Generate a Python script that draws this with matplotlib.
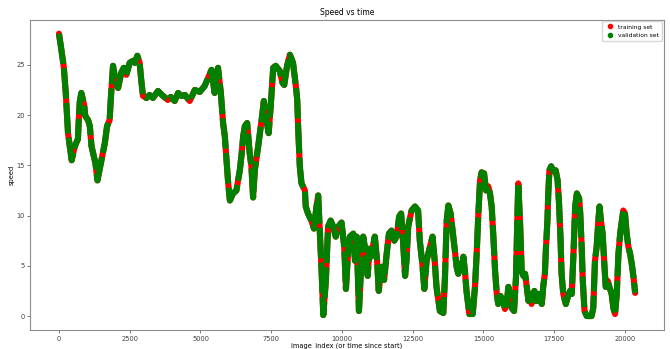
import matplotlib
matplotlib.use('Agg')
from matplotlib import pyplot as plt
from matplotlib.lines import Line2D

# speed trace, read at the turning points of the drive
frames = [0, 80, 170, 240, 285, 320, 400, 450, 550, 620, 670, 700, 735, 790, 840, 890,
          930, 1030, 1090, 1150, 1230, 1290, 1360, 1500, 1620, 1700, 1790, 1830, 1875,
          1910, 1995, 2090, 2200, 2290, 2380, 2500, 2620, 2680, 2770, 2850, 2910, 2970,
          3090, 3200, 3320, 3500, 3600, 3680, 3850, 3950, 4090, 4210, 4330, 4450, 4620,
          4800, 4975, 5150, 5270, 5390, 5500, 5560, 5620, 5720, 5800, 5860, 5920, 5980,
          6040, 6150, 6270, 6390, 6450, 6510, 6570, 6650, 6740, 6800, 6860, 6920, 7040,
          7160, 7240, 7330, 7410, 7490, 7570, 7660, 7800, 7900, 7960, 8060, 8160, 8270,
          8370, 8420, 8450, 8490, 8510, 8570, 8690, 8720, 8800, 8920, 9010, 9100, 9160,
          9220, 9280, 9340, 9430, 9510, 9600, 9690, 9780, 9870, 9985, 10080, 10140, 10220,
          10280, 10400, 10460, 10520, 10600, 10670, 10750, 10830, 10910, 10970, 11020,
          11100, 11160, 11240, 11300, 11400, 11490, 11580, 11660, 11750, 11850, 11940,
          12020, 12090, 12170, 12230, 12280, 12340, 12460, 12580, 12690, 12750, 12840,
          12910, 12990, 13110, 13200, 13280, 13340, 13460, 13580, 13640, 13700, 13760,
          13840, 13910, 13990, 14050, 14110, 14170, 14230, 14290, 14350, 14400, 14500,
          14620, 14700, 14760, 14820, 14880, 14935, 15020, 15090, 15170, 15230, 15290,
          15350, 15410, 15470, 15520, 15600, 15700, 15760, 15820, 15880, 15950, 16000,
          16080, 16150, 16195, 16230, 16290, 16350, 16410, 16470, 16530, 16590, 16650,
          16700, 16800, 16880, 16960, 17060, 17110, 17170, 17210, 17260, 17290, 17330,
          17390, 17470, 17550, 17620, 17670, 17720, 17760, 17820, 17910, 17980, 18060,
          18120, 18180, 18240, 18300, 18380, 18420, 18470, 18510, 18570, 18650, 18820,
          18880, 18940, 19000, 19060, 19100, 19150, 19210, 19270, 19320, 19390, 19460,
          19530, 19590, 19650, 19710, 19770, 19830, 19890, 19940, 20000, 20060, 20120,
          20180, 20240, 20300, 20360]

speed = [28.1, 26.6, 24.8, 22.2, 19.9, 18.2, 16.5, 15.5, 16.8, 17.3, 17.6, 19.5, 21.3,
         22.2, 21.6, 21.0, 19.9, 19.5, 18.9, 16.9, 15.9, 15.2, 13.5, 15.5, 17.2, 18.9,
         19.5, 21.5, 23.5, 24.9, 23.5, 22.7, 24.2, 24.7, 24.0, 25.2, 25.4, 25.2, 25.9,
         25.2, 23.4, 21.9, 21.7, 22.0, 21.7, 22.4, 22.1, 21.9, 21.5, 21.8, 21.4, 22.2,
         21.9, 22.0, 21.4, 22.5, 22.3, 22.9, 23.7, 24.5, 22.2, 23.8, 24.7, 22.2, 19.2,
         17.9, 15.5, 13.2, 11.5, 12.2, 12.5, 14.5, 16.0, 17.9, 18.9, 19.2, 16.2, 14.9,
         11.8, 14.5, 16.9, 19.5, 21.4, 19.5, 18.2, 21.2, 24.7, 24.9, 24.4, 23.2, 23.0,
         24.9, 26.0, 25.2, 22.9, 21.5, 18.9, 16.2, 14.9, 13.2, 12.5, 10.9, 10.2, 9.5,
         8.7, 10.9, 12.0, 8.2, 4.5, 0.1, 3.5, 8.9, 9.5, 8.9, 7.9, 8.9, 9.3, 6.9, 2.7,
         6.5, 7.9, 8.2, 5.5, 7.9, 0.5, 4.5, 7.9, 6.5, 4.0, 6.7, 5.9, 7.0, 7.9, 5.5, 2.5,
         4.9, 3.6, 6.2, 8.2, 8.5, 7.5, 8.0, 9.9, 10.2, 6.9, 4.0, 5.5, 8.9, 10.5, 10.9,
         10.5, 7.5, 5.2, 2.7, 5.5, 6.9, 7.9, 5.4, 2.9, 0.5, 0.3, 3.9, 9.5, 11.0, 10.2,
         8.5, 6.5, 4.9, 4.2, 5.2, 4.6, 5.9, 4.3, 2.5, 0.2, 0.2, 2.9, 6.2, 10.2, 13.5,
         14.3, 14.2, 12.5, 12.9, 12.2, 10.9, 7.9, 4.5, 2.2, 1.2, 2.0, 1.4, 0.7, 1.2, 2.9,
         1.5, 0.8, 0.5, 3.9, 9.5, 13.2, 9.5, 4.5, 4.0, 4.2, 2.9, 1.5, 2.2, 1.2, 2.5, 1.5,
         2.2, 1.2, 2.9, 4.2, 6.9, 9.5, 12.2, 14.5, 14.9, 14.4, 14.5, 13.5, 11.2, 7.9,
         4.2, 2.2, 1.2, 1.9, 2.5, 2.2, 6.2, 10.9, 12.2, 11.7, 10.2, 6.9, 3.5, 0.5, 0.0,
         0.0, 0.8, 5.5, 6.9, 9.5, 10.9, 9.5, 8.2, 5.2, 2.9, 3.5, 2.8, 2.2, 0.8, 0.2, 2.2,
         6.2, 8.2, 9.5, 10.5, 10.2, 8.2, 6.9, 6.2, 5.2, 3.9, 2.3]

plt.rcParams['font.family'] = 'DejaVu Sans'
plt.rcParams['font.size'] = 5

fig = plt.figure(figsize=(6.7, 3.49), dpi=100)
ax = fig.add_axes([0.045, 0.054, 0.946, 0.89])

# training samples underneath, validation samples laid over them
ax.plot(frames, speed, color='red', lw=4.4, solid_capstyle='round',
        solid_joinstyle='round', zorder=2)
ax.plot(frames, speed, color='green', lw=4.4, dashes=(5, 0.7),
        dash_capstyle='butt', dash_joinstyle='round', zorder=3)

ax.set_xticks([0, 2500, 5000, 7500, 10000, 12500, 15000, 17500, 20000])
ax.set_yticks([0, 5, 10, 15, 20, 25])
ax.tick_params(labelsize=4.8, length=2.5, width=0.5, colors='0.25', pad=1.5)
for sp in ax.spines.values():
    sp.set_color('0.55')
    sp.set_linewidth(0.8)

ax.set_title('Speed vs time', fontsize=5.5, pad=3)
ax.set_xlabel('image_index (or time since start)', fontsize=4.8, labelpad=0.5)
ax.set_ylabel('speed', fontsize=4.8, labelpad=1)

handles = [Line2D([], [], ls='none', marker='o', ms=3, color='red'),
           Line2D([], [], ls='none', marker='o', ms=3, color='green')]
ax.legend(handles, ['training set', 'validation set'], loc='upper right',
          fontsize=4.3, handletextpad=0.5, borderpad=0.5, handlelength=1.8,
          borderaxespad=0.3, framealpha=0.8)

fig.savefig('out.png', dpi=100)
